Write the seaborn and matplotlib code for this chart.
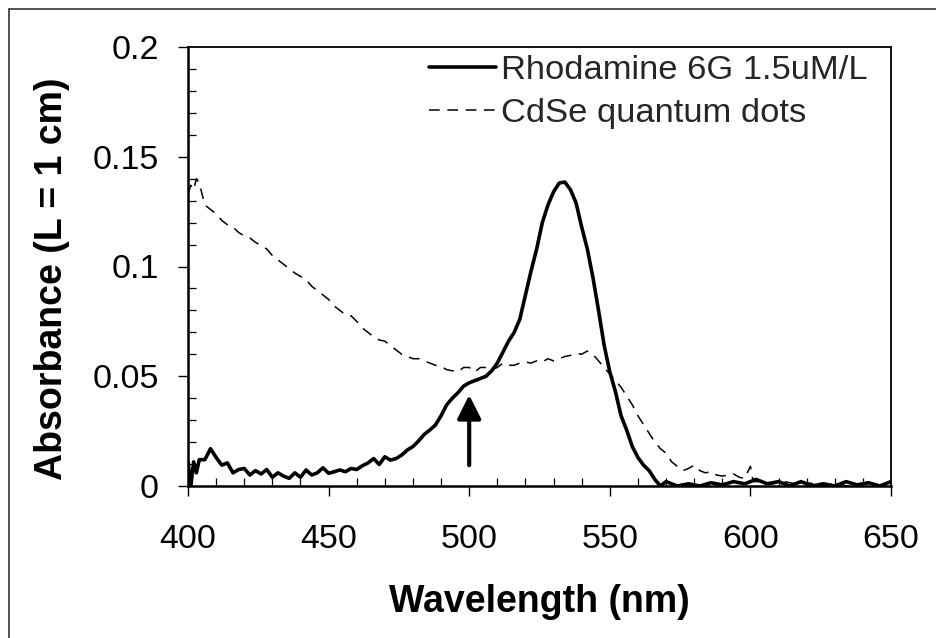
import matplotlib
matplotlib.use("Agg")
import matplotlib.pyplot as plt
from matplotlib.patches import Rectangle
from matplotlib.ticker import MultipleLocator, FixedLocator, FixedFormatter
import seaborn as sns

# ---- data ----
rh_wl = [400, 401, 402, 403, 404, 406, 408, 410, 412, 414, 416, 418, 420, 422, 424, 426, 428,
         430, 432, 434, 436, 438, 440, 442, 444, 446, 448, 450, 452, 454, 456, 458, 460, 462,
         464, 466, 468, 470, 472, 474, 476, 478, 480, 482, 484, 486, 488, 490, 492, 494, 496,
         498, 500, 502, 504, 506, 508, 510, 512, 514, 516, 518, 520, 522, 524, 526, 528, 530,
         532, 534, 536, 538, 540, 542, 544, 546, 548, 550, 552, 554, 556, 558, 560, 562, 564,
         566, 568, 570, 574, 578, 582, 586, 590, 594, 598, 602, 606, 610, 614, 618, 622, 626,
         630, 634, 638, 642, 646, 650]
rh_abs = [0.011, 0.000, 0.011, 0.006, 0.012, 0.012, 0.017, 0.013, 0.0095, 0.0105, 0.006, 0.0075,
          0.008, 0.005, 0.007, 0.0055, 0.0075, 0.004, 0.006, 0.0045, 0.0035, 0.006, 0.004, 0.0073,
          0.005, 0.006, 0.0083, 0.0058, 0.0065, 0.0073, 0.0065, 0.008, 0.0075, 0.0092, 0.0105,
          0.0125, 0.0098, 0.0133, 0.0118, 0.0125, 0.0141, 0.0164, 0.018, 0.0205, 0.0235, 0.0255,
          0.0278, 0.032, 0.037, 0.040, 0.0425, 0.0455, 0.047, 0.048, 0.049, 0.050, 0.0525, 0.056,
          0.061, 0.066, 0.070, 0.076, 0.087, 0.098, 0.108, 0.120, 0.128, 0.134, 0.138, 0.1385,
          0.135, 0.129, 0.118, 0.108, 0.095, 0.080, 0.064, 0.052, 0.043, 0.032, 0.0255, 0.018,
          0.013, 0.0095, 0.007, 0.003, 0.000, 0.002, 0.000, 0.001, 0.000, 0.0015, 0.0005, 0.002,
          0.001, 0.003, 0.001, 0.002, 0.000, 0.002, 0.000, 0.001, 0.000, 0.002, 0.0005, 0.0015,
          0.000, 0.002]

qd_wl = [400, 401, 402, 403, 404, 406, 408, 410, 412, 414, 416, 418, 420, 422, 424, 426, 428,
         430, 432, 434, 436, 438, 440, 442, 444, 446, 448, 450, 452, 454, 456, 458, 460, 462,
         464, 466, 468, 470, 472, 474, 476, 478, 480, 482, 484, 486, 488, 490, 492, 494, 496,
         498, 500, 502, 504, 506, 508, 510, 512, 514, 516, 518, 520, 522, 524, 526, 528, 530,
         532, 534, 536, 538, 540, 542, 544, 546, 548, 550, 552, 554, 556, 558, 560, 562, 564,
         566, 568, 570, 572, 574, 576, 578, 580, 582, 584, 586, 588, 590, 592, 594, 596, 598,
         600, 601, 604, 608, 612, 616, 620, 625, 630, 635, 640, 645, 650]
qd_abs = [0.133, 0.137, 0.135, 0.140, 0.138, 0.128, 0.126, 0.124, 0.121, 0.119, 0.118, 0.1155,
          0.114, 0.113, 0.111, 0.1095, 0.108, 0.105, 0.103, 0.101, 0.099, 0.097, 0.0955, 0.094,
          0.091, 0.089, 0.087, 0.085, 0.082, 0.080, 0.078, 0.0775, 0.075, 0.072, 0.070, 0.068,
          0.0665, 0.066, 0.064, 0.062, 0.060, 0.059, 0.058, 0.058, 0.057, 0.056, 0.055, 0.0545,
          0.053, 0.0525, 0.052, 0.054, 0.054, 0.052, 0.054, 0.054, 0.053, 0.054, 0.056, 0.055,
          0.055, 0.056, 0.0565, 0.056, 0.057, 0.0565, 0.058, 0.057, 0.058, 0.059, 0.0595, 0.0605,
          0.060, 0.0615, 0.060, 0.057, 0.054, 0.051, 0.048, 0.045, 0.041, 0.037, 0.032, 0.028,
          0.024, 0.020, 0.017, 0.015, 0.011, 0.009, 0.007, 0.008, 0.0095, 0.007, 0.006, 0.0065,
          0.005, 0.0045, 0.005, 0.0055, 0.004, 0.0035, 0.009, 0.002, 0.002, 0.001, 0.002, 0.001,
          0.0015, 0.0005, 0.001, 0.000, 0.001, 0.000, 0.001]

series_names = ["Rhodamine 6G 1.5uM/L", "CdSe quantum dots"]
x_ticks = [400, 450, 500, 550, 600, 650]
y_ticks = [0, 0.05, 0.1, 0.15, 0.2]
y_tick_labels = ["0", "0.05", "0.1", "0.15", "0.2"]
arrow_x = 500
arrow_y = (0.0095, 0.0415)

# ---- styling ----
sns.set_theme(style="white")
plt.rcParams["font.family"] = ["Liberation Sans", "DejaVu Sans"]

W, H = 936, 638
fig = plt.figure(figsize=(W / 100, H / 100), dpi=100)
L, R, T, B = 188, 891, 47, 486
ax = fig.add_axes([L / W, 1 - B / H, (R - L) / W, (B - T) / H])

sns.lineplot(x=rh_wl, y=rh_abs, ax=ax, color="black", linewidth=2.6,
             label=series_names[0], estimator=None, sort=False)
sns.lineplot(x=qd_wl, y=qd_abs, ax=ax, color="black", linewidth=1.1,
             linestyle=(0, (7, 5)), label=series_names[1], estimator=None, sort=False)

ax.set_xlim(400, 650)
ax.set_ylim(0, 0.2)
ax.xaxis.set_major_locator(FixedLocator(x_ticks))
ax.xaxis.set_minor_locator(MultipleLocator(10))
ax.yaxis.set_major_locator(FixedLocator(y_ticks))
ax.yaxis.set_major_formatter(FixedFormatter(y_tick_labels))
ax.yaxis.set_minor_locator(MultipleLocator(0.01))

ax.tick_params(which="major", direction="out", length=7, width=1.0, color="black",
               labelsize=24.5, labelcolor="black")
ax.tick_params(axis="y", which="major", pad=14)
ax.tick_params(axis="x", which="major", pad=20)
ax.tick_params(which="minor", direction="in", length=6, width=0.9, color="black")
ax.tick_params(bottom=True, left=True, which="both")

for s in ax.spines.values():
    s.set_visible(True)
    s.set_color("black")
    s.set_linewidth(1.3)
ax.spines["left"].set_linewidth(1.8)
ax.spines["bottom"].set_linewidth(1.8)

ax.set_xlabel("Wavelength (nm)", fontsize=27, fontweight="bold", color="black")
ax.set_ylabel("Absorbance (L = 1 cm)", fontsize=27, fontweight="bold", color="black")
ax.xaxis.label.set_va("baseline")
ax.xaxis.set_label_coords(0.5, -(611.7 - B) / (B - T))
ax.yaxis.label.set_va("baseline")
ax.yaxis.set_label_coords((62 - L) / (R - L), (B - 278.6) / (B - T))

ax.annotate("", xy=(arrow_x, arrow_y[1]), xytext=(arrow_x, arrow_y[0]),
            arrowprops=dict(arrowstyle="-|>,head_length=0.72,head_width=0.36",
                            mutation_scale=20, lw=3, color="black",
                            shrinkA=0, shrinkB=0))

leg = ax.legend(loc="upper right", frameon=False, fontsize=24.8, handlelength=1.95,
                handletextpad=0.15, labelspacing=0.35, borderaxespad=0, borderpad=0,
                bbox_to_anchor=(1 - 23 / (R - L), 1 - 8 / (B - T)))

fig.patches.append(Rectangle((8.5 / W, -0.2), 1.5, 1.2 - 8.5 / H, transform=fig.transFigure,
                             fill=False, edgecolor="#333333", linewidth=1.2))

fig.savefig("out.png", dpi=100, facecolor="white")
